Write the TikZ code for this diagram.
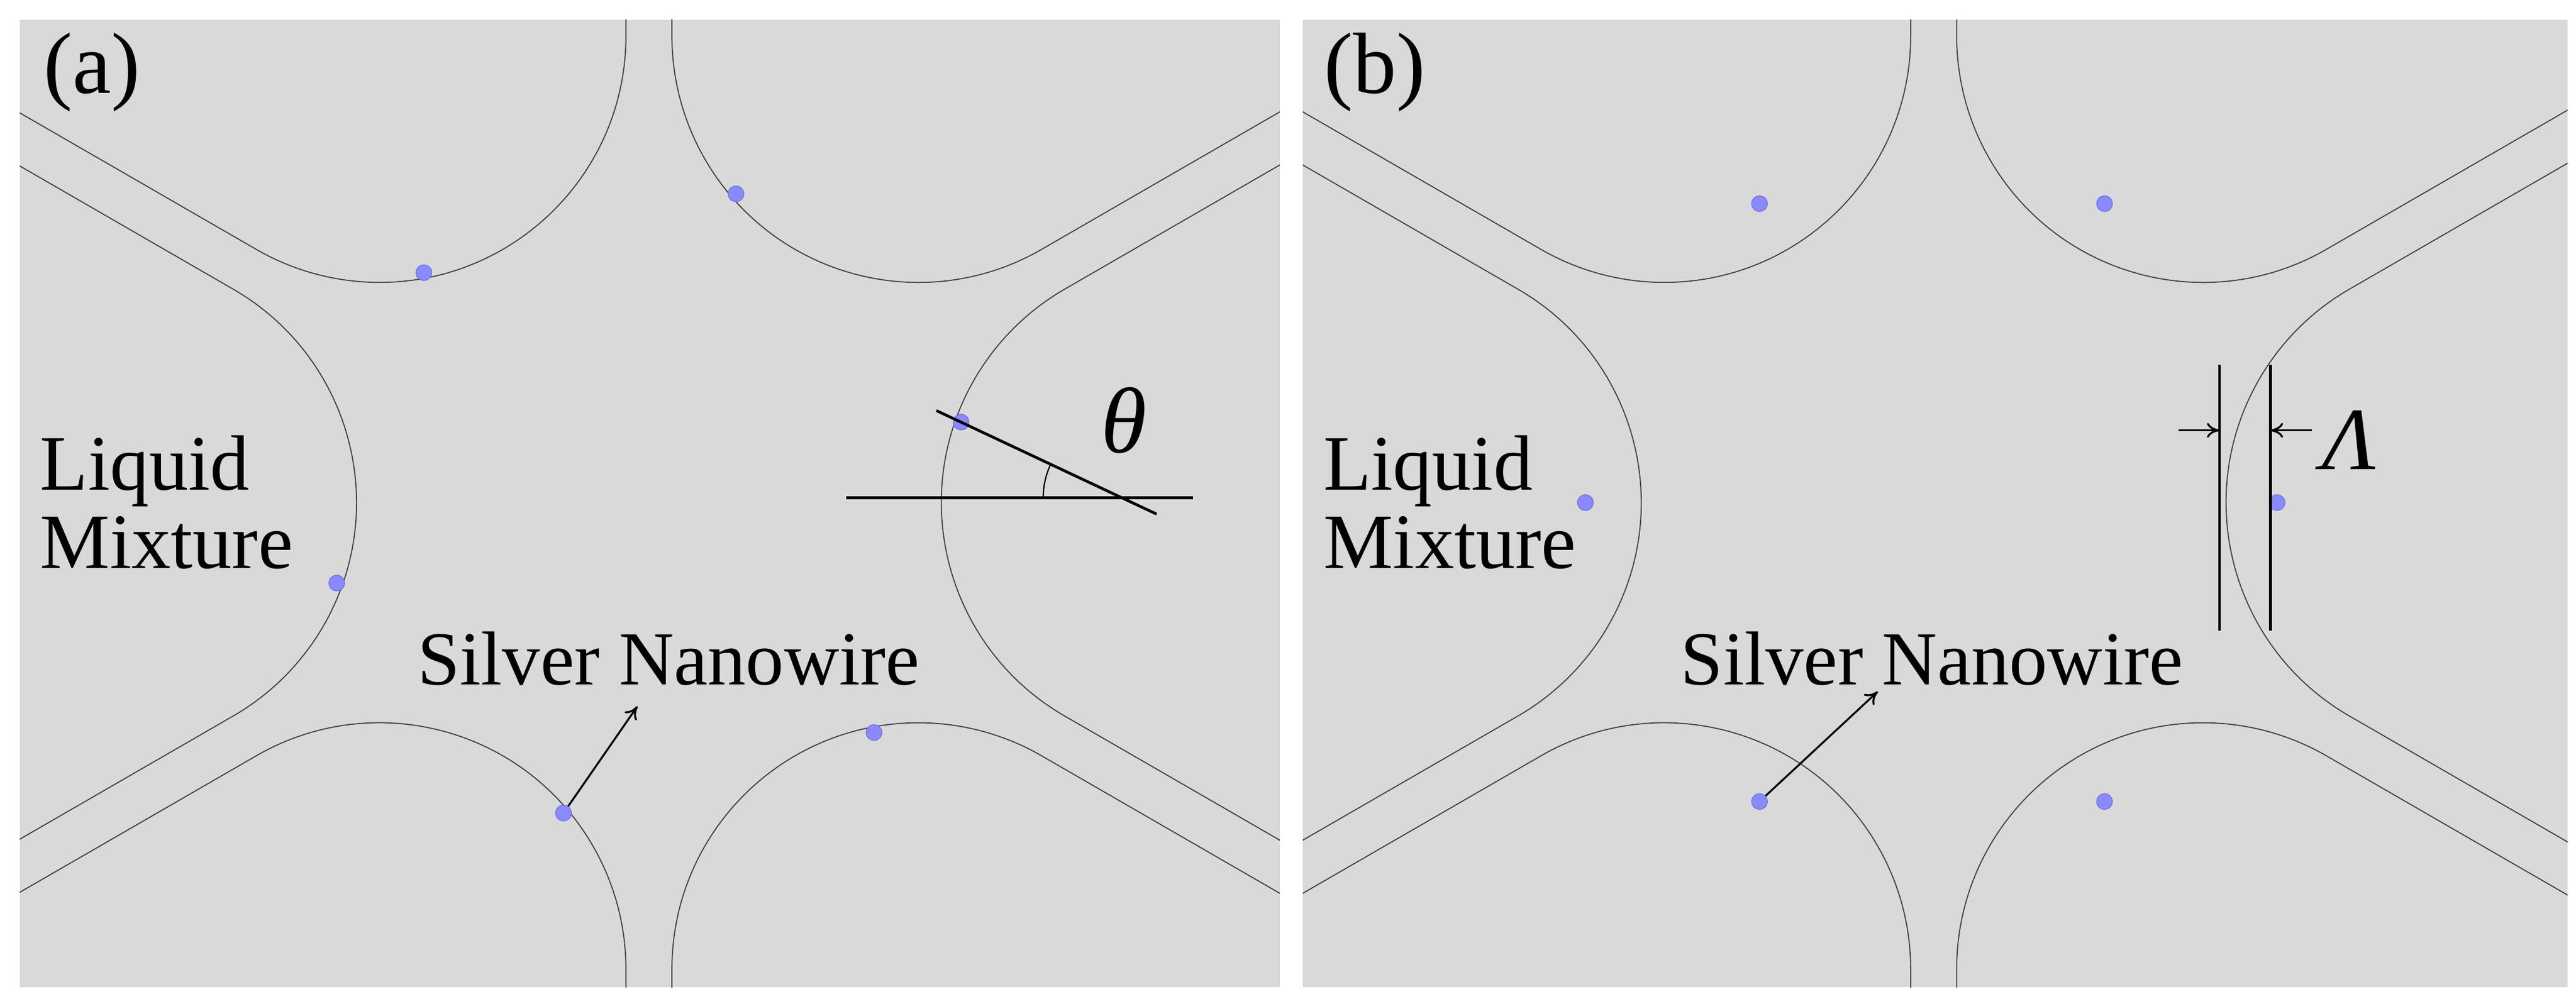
\documentclass[tikz,border=0pt]{standalone}
\usepackage{fontspec}
\setmainfont{Liberation Serif}
\usetikzlibrary{arrows.meta}
\usetikzlibrary{positioning}
\definecolor{panelgray}{HTML}{D9D9D9}
\definecolor{wirefill}{HTML}{8A8AFF}
\definecolor{wiredraw}{HTML}{6A6AE0}
\tikzset{
  Faser/.style={draw=black!75,line width=0.5pt}, % Faserkontur
  Draht/.style={circle,fill=wirefill,draw=wiredraw,line width=0.3pt,inner sep=0pt,minimum size=7.5pt}, % Nanodraht
  Mass/.style={line width=1.3pt}, % Hilfslinien
  Beschr/.style={font=\fontsize{37}{41}\selectfont,align=left}
}
% eine Faser im Sektor mit Winkelhalbierender #2 um Mittelpunkt #1
\newcommand{\faser}[2]{%
  \draw[Faser] (#1) ++(#2:328) ++(#2-120:150) ++(#2-30:700) -- ++(#2+150:700)
    arc[start angle=#2-120, end angle=#2-240, radius=150] -- ++(#2+30:700);
}
\begin{document}
\begin{tikzpicture}[x=0.02724cm,y=0.02724cm,
>={To[length=6pt,width=7pt]} % Voreinstellung fuer Pfeilspitzen
]
\useasboundingbox (0,0) rectangle (1568,611);

%Hintergrund
\fill[panelgray] (12,10) rectangle (779,599);
\fill[panelgray] (793,10) rectangle (1563,599);
\coordinate (Oa) at (395,305);
\coordinate (Ob) at (1177,305);

%Fasern
\begin{scope}
  \clip (12,10) rectangle (779,599);
  \foreach \w in {0,60,...,300} {\faser{Oa}{\w}}
\end{scope}
\begin{scope}
  \clip (793,10) rectangle (1563,599);
  \foreach \w in {0,60,...,300} {\faser{Ob}{\w}}
\end{scope}

%Nanodraehte
\node[Draht] (a1) at (258,445) {};
\node[Draht] (a2) at (448,493) {};
\node[Draht] (a3) at (205,256) {};
\node[Draht] (a4) at (585,354) {};
\node[Draht] (a5) at (343,116) {};
\node[Draht] (a6) at (532,165) {};
\node[Draht] (b1) at (1071,487) {};
\node[Draht] (b2) at (1281,487) {};
\node[Draht] (b3) at (965,305) {};
\node[Draht] (b4) at (1386,305) {};
\node[Draht] (b5) at (1071,123) {};
\node[Draht] (b6) at (1281,123) {};

%Beschriftungen
\node[Beschr,font=\fontsize{41}{45}\selectfont] (la) at (56,567) {(a)};
\node[Beschr,font=\fontsize{41}{45}\selectfont] (lb) at (837,567) {(b)};
\node[Beschr,anchor=west] (fla) at (20,305) {Liquid\\[-4pt]Mixture};
\node[Beschr,anchor=west] (flb) at (801,305) {Liquid\\[-4pt]Mixture};
\node[Beschr,font=\fontsize{36}{40}\selectfont] (sa) at (407,210) {Silver Nanowire};
\node[Beschr,font=\fontsize{36}{40}\selectfont] (sb) at (1176,210) {Silver Nanowire};
\coordinate (pa) at (388,181);
\coordinate (pb) at (1143,190);
\draw[->,line width=0.9pt] (a5) -- (pa);
\draw[->,line width=0.9pt] (b5) -- (pb);

%Kontaktwinkel
\coordinate (h1) at (515,308);
\coordinate (h2) at (726,308);
\coordinate (s1) at (570,361);
\coordinate (s2) at (704,298);
\coordinate (sx) at (683,308);
\draw[Mass] (h1) -- (h2);
\draw[Mass] (s1) -- (s2);
\draw[line width=0.6pt] (sx) ++(180:48) arc[start angle=180, end angle=155, radius=48];
\node[font=\fontsize{44}{48}\selectfont\itshape] (th) at (684,355) {θ};

%Abstand
\coordinate (v1o) at (1351,389);
\coordinate (v1u) at (1351,227);
\coordinate (v2o) at (1382,389);
\coordinate (v2u) at (1382,227);
\draw[Mass] (v1o) -- (v1u);
\draw[Mass] (v2o) -- (v2u);
\coordinate (q1) at (1326,349);
\coordinate (q2) at (1407,349);
\coordinate (z1) at (1351,349);
\coordinate (z2) at (1382,349);
\draw[->,line width=0.9pt] (q1) -- (z1);
\draw[->,line width=0.9pt] (q2) -- (z2);
\node[font=\fontsize{42}{46}\selectfont\itshape] (lam) at (1430,343) {Λ};
\end{tikzpicture}
\end{document}
